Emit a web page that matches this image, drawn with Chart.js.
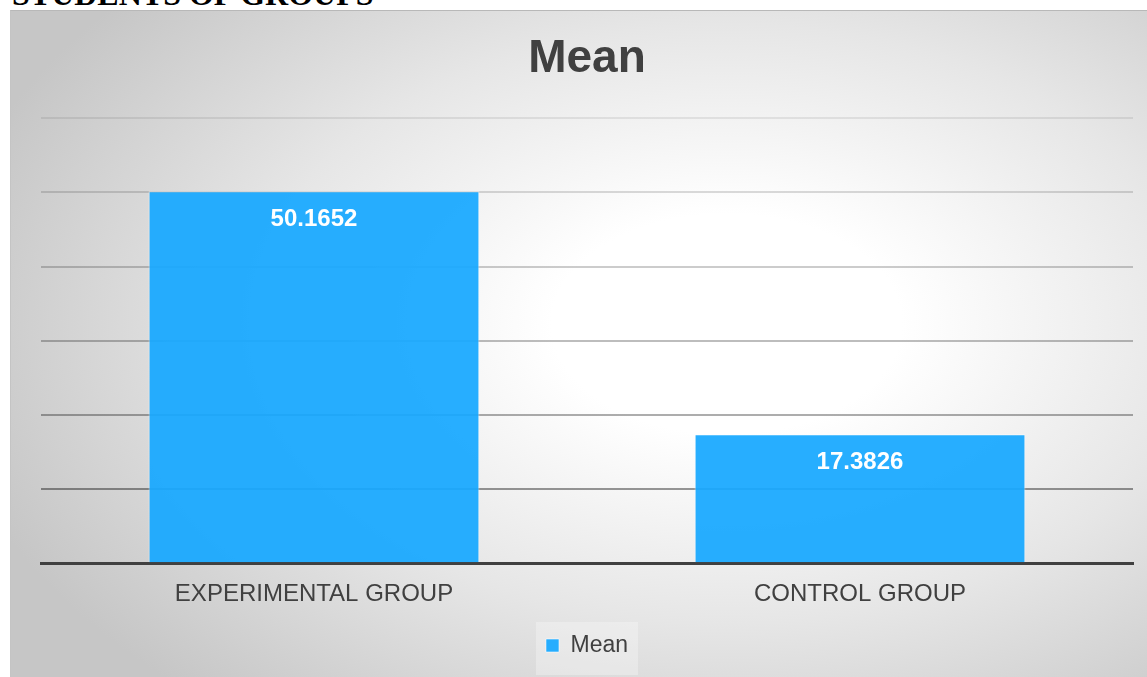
<!DOCTYPE html>
<html>
<head>
<meta charset="utf-8">
<script src="https://cdn.jsdelivr.net/npm/chart.js@4.4.1/dist/chart.umd.min.js"></script>
<style>
  html, body { margin: 0; padding: 0; background: #ffffff; width: 1147px; height: 677px; overflow: hidden; position: relative; }
  #head { position: absolute; left: 12px; top: -24px; font: bold 32px "Liberation Serif", "Times New Roman", serif; color: #000; white-space: nowrap; line-height: 36px; }
  #frame { position: absolute; left: 10px; top: 10px; width: 1137px; height: 667px;
    background: radial-gradient(ellipse 70% 75% at 63% 47%, #ffffff 0%, #ffffff 22%, #e6e6e6 60%, #c6c6c6 100%);
    border-top: 1px solid #b8b8b8; border-left: 1px solid #c4c4c4; box-sizing: border-box; }
  #frame canvas { display: block; }
</style>
</head>
<body>
<div id="head">STUDENTS OF GROUPS</div>
<div id="frame"><canvas id="c"></canvas></div>
<script>
const categories = ['EXPERIMENTAL GROUP', 'CONTROL GROUP'];
const seriesName = 'Mean';
const meanValues = [50.1652, 17.3826];
const valueLabels = ['50.1652', '17.3826'];
const chartTitle = 'Mean';
const yMin = 0, yMax = 60, yStep = 10;

const gridAlpha = {0: 0, 10: 0.40, 20: 0.32, 30: 0.26, 40: 0.20, 50: 0.14, 60: 0.08};

const valueLabelPlugin = {
  id: 'valueLabels',
  afterDatasetsDraw(chart) {
    const ctx = chart.ctx;
    const meta = chart.getDatasetMeta(0);
    ctx.save();
    ctx.fillStyle = '#ffffff';
    ctx.font = 'bold 24px "Liberation Sans", Arial, sans-serif';
    ctx.textAlign = 'center';
    ctx.textBaseline = 'alphabetic';
    meta.data.forEach((bar, i) => {
      ctx.fillText(valueLabels[i], bar.x, bar.y + 35);
    });
    ctx.restore();
  }
};

const legendBgPlugin = {
  id: 'legendBg',
  beforeDraw(chart) {
    const lg = chart.legend;
    if (!lg || !lg.legendHitBoxes || !lg.legendHitBoxes.length) return;
    const hb = lg.legendHitBoxes[0];
    const ctx = chart.ctx;
    ctx.save();
    ctx.fillStyle = 'rgba(250,250,250,0.35)';
    ctx.fillRect(hb.left - 10, hb.top - 12, hb.width + 20, hb.height + 30);
    ctx.restore();
  }
};

new Chart(document.getElementById('c'), {
  type: 'bar',
  data: {
    labels: categories,
    datasets: [{
      label: seriesName,
      data: meanValues,
      backgroundColor: 'rgba(23,168,255,0.93)',
      borderColor: 'rgba(255,255,255,0.55)',
      borderWidth: 1,
      barPercentage: 0.606,
      categoryPercentage: 1.0
    }]
  },
  options: {
    responsive: true,
    maintainAspectRatio: false,
    animation: false,
    layout: { padding: { left: 30, right: 14, top: 0, bottom: 10 } },
    plugins: {
      title: {
        display: true,
        text: chartTitle,
        color: '#404040',
        font: { family: '"Liberation Sans", Arial, sans-serif', size: 46, weight: 'bold' },
        padding: { top: 21, bottom: 31 }
      },
      legend: {
        display: true,
        position: 'bottom',
        labels: {
          color: '#404040',
          font: { family: '"Liberation Sans", Arial, sans-serif', size: 23 },
          boxWidth: 13,
          boxHeight: 13,
          padding: 8
        }
      },
      tooltip: { enabled: false }
    },
    scales: {
      x: {
        grid: { display: false, drawTicks: false },
        border: { display: true, color: '#404040', width: 3 },
        ticks: {
          color: '#404040',
          font: { family: '"Liberation Sans", Arial, sans-serif', size: 24 },
          padding: 17
        }
      },
      y: {
        min: yMin,
        max: yMax,
        ticks: { display: false, stepSize: yStep },
        border: { display: false },
        grid: {
          drawTicks: false,
          lineWidth: 2,
          color: (ctx) => {
            const v = ctx.tick ? ctx.tick.value : 0;
            const a = gridAlpha[v] !== undefined ? gridAlpha[v] : 0.2;
            return 'rgba(0,0,0,' + a + ')';
          }
        }
      }
    }
  },
  plugins: [legendBgPlugin, valueLabelPlugin]
});
</script>
</body>
</html>
